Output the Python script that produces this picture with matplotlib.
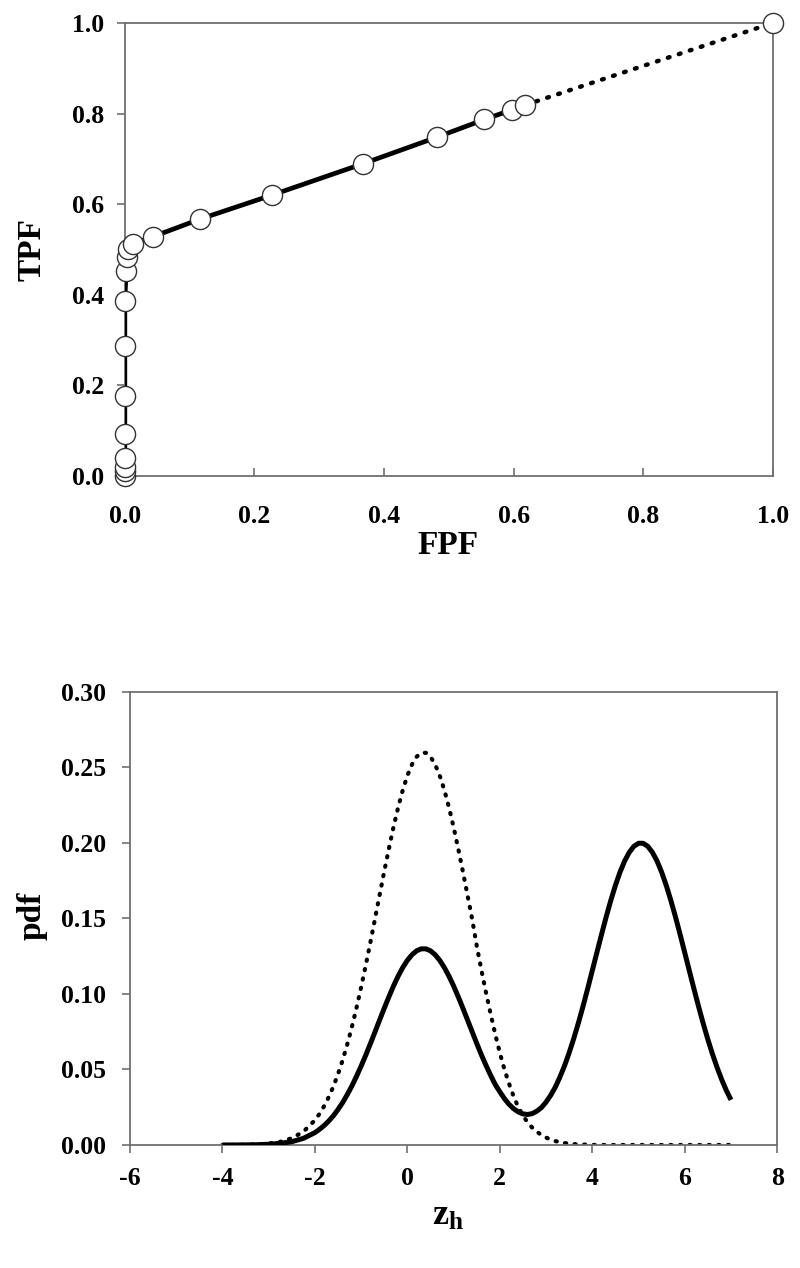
import matplotlib
matplotlib.use("Agg")
import matplotlib.pyplot as plt

plt.rcParams['font.family'] = ['Liberation Serif', 'DejaVu Serif']
plt.rcParams['font.weight'] = 'bold'
plt.rcParams['mathtext.fontset'] = 'custom'
plt.rcParams['mathtext.rm'] = 'Liberation Serif:bold'
plt.rcParams['mathtext.bf'] = 'Liberation Serif:bold'
plt.rcParams['mathtext.it'] = 'Liberation Serif:bold'

# ---- ROC data (top panel) ----
roc_fpf = [0.0, 0.0, 0.0, 0.0, 0.0, 0.0, 0.0, 0.0, 0.002, 0.003, 0.005, 0.012,
           0.043, 0.116, 0.227, 0.367, 0.482, 0.555, 0.597, 0.618]
roc_tpf = [0.0, 0.01, 0.02, 0.04, 0.093, 0.177, 0.288, 0.386, 0.452, 0.484, 0.50, 0.512,
           0.528, 0.567, 0.620, 0.689, 0.748, 0.787, 0.808, 0.819]
ext_fpf = [0.618, 1.0]
ext_tpf = [0.819, 1.0]
roc_end_fpf = [1.0]
roc_end_tpf = [1.0]

# ---- pdf data (bottom panel) ----
z_vals = [-4.0, -3.75, -3.5, -3.25, -3.0, -2.75, -2.5, -2.25,
          -2.0, -1.9, -1.8, -1.7, -1.6, -1.5, -1.4, -1.3, -1.2, -1.1,
          -1.0, -0.9, -0.8, -0.7, -0.6, -0.5, -0.4, -0.3, -0.2, -0.1,
          0.0, 0.1, 0.2, 0.3, 0.4, 0.5, 0.6, 0.7, 0.8, 0.9,
          1.0, 1.1, 1.2, 1.3, 1.4, 1.5, 1.6, 1.7, 1.8, 1.9,
          2.0, 2.1, 2.2, 2.3, 2.4, 2.5, 2.6, 2.7, 2.8, 2.9,
          3.0, 3.1, 3.2, 3.3, 3.4, 3.5, 3.6, 3.7, 3.8, 3.9,
          4.0, 4.1, 4.2, 4.3, 4.4, 4.5, 4.6, 4.7, 4.8, 4.9,
          5.0, 5.1, 5.2, 5.3, 5.4, 5.5, 5.6, 5.7, 5.8, 5.9,
          6.0, 6.1, 6.2, 6.3, 6.4, 6.5, 6.6, 6.7, 6.8, 6.9,
          7.0]
pdf_solid = [0.00001, 0.00003, 0.00008, 0.0002, 0.0005, 0.0011, 0.0022, 0.0044,
             0.0082, 0.0104, 0.0129, 0.0159, 0.0194, 0.0235, 0.0281, 0.0334, 0.0391, 0.0455,
             0.0523, 0.0595, 0.0671, 0.0749, 0.0828, 0.0906, 0.0981, 0.1053, 0.1118, 0.1175,
             0.1223, 0.1260, 0.1286, 0.1299, 0.1299, 0.1286, 0.1260, 0.1223, 0.1175, 0.1118,
             0.1053, 0.0982, 0.0907, 0.0829, 0.0751, 0.0673, 0.0598, 0.0528, 0.0462, 0.0401,
             0.0352, 0.0307, 0.0269, 0.0240, 0.0219, 0.0206, 0.0202, 0.0208, 0.0224, 0.0248,
             0.0284, 0.0329, 0.0383, 0.0450, 0.0525, 0.0611, 0.0706, 0.0809, 0.0919, 0.1035,
             0.1155, 0.1275, 0.1394, 0.1510, 0.1619, 0.1719, 0.1807, 0.1881, 0.1938, 0.1978,
             0.1998, 0.1998, 0.1978, 0.1938, 0.1881, 0.1807, 0.1719, 0.1619, 0.1510, 0.1394,
             0.1274, 0.1153, 0.1033, 0.0916, 0.0804, 0.0699, 0.0602, 0.0513, 0.0433, 0.0361,
             0.0299]
pdf_dotted = [0.00002, 0.00006, 0.00016, 0.0004, 0.00095, 0.0021, 0.0045, 0.0088,
              0.0164, 0.0207, 0.0258, 0.0318, 0.0388, 0.0470, 0.0562, 0.0667, 0.0782, 0.0909,
              0.1045, 0.1190, 0.1342, 0.1498, 0.1656, 0.1812, 0.1962, 0.2105, 0.2235, 0.2350,
              0.2446, 0.2520, 0.2571, 0.2597, 0.2597, 0.2571, 0.2520, 0.2446, 0.2350, 0.2235,
              0.2105, 0.1962, 0.1812, 0.1656, 0.1498, 0.1320, 0.1160, 0.1010, 0.0870, 0.0735,
              0.0610, 0.0500, 0.0405, 0.0320, 0.0250, 0.0195, 0.0150, 0.0115, 0.0088, 0.0066,
              0.0049, 0.0036, 0.0026, 0.0019, 0.0013, 0.0009, 0.0006, 0.0004, 0.0003, 0.0002,
              0.0001, 0.0, 0.0, 0.0, 0.0, 0.0, 0.0, 0.0, 0.0, 0.0,
              0.0, 0.0, 0.0, 0.0, 0.0, 0.0, 0.0, 0.0, 0.0, 0.0,
              0.0, 0.0, 0.0, 0.0, 0.0, 0.0, 0.0, 0.0, 0.0, 0.0,
              0.0]

fig = plt.figure(figsize=(8.0, 12.68), dpi=100)
spine_col = '#707070'

# ---------- top panel ----------
ax1 = fig.add_axes([0.156, 0.6246, 0.810, 0.3573])
ax1.plot(ext_fpf, ext_tpf, color='black', lw=3.2, linestyle=(0, (0.4, 2.2)),
         dash_capstyle='round', zorder=2)
ax1.plot(roc_fpf, roc_tpf, color='black', lw=3.4, zorder=3)
ax1.plot(roc_fpf, roc_tpf, linestyle='none', marker='o', ms=14.5, mfc='white',
         mec='#333333', mew=1.0, zorder=4, clip_on=False)
ax1.plot(roc_end_fpf, roc_end_tpf, linestyle='none', marker='o', ms=14.5, mfc='white',
         mec='#333333', mew=1.0, zorder=4, clip_on=False)
ax1.set_xlim(0, 1)
ax1.set_ylim(0, 1)
ax1.set_xticks([0.0, 0.2, 0.4, 0.6, 0.8, 1.0])
ax1.set_yticks([0.0, 0.2, 0.4, 0.6, 0.8, 1.0])
ax1.set_xticklabels(['0.0', '0.2', '0.4', '0.6', '0.8', '1.0'])
ax1.set_yticklabels(['0.0', '0.2', '0.4', '0.6', '0.8', '1.0'])
ax1.tick_params(axis='x', direction='in', length=6, width=1.2, color=spine_col,
                labelsize=18.5, pad=21)
ax1.tick_params(axis='y', direction='out', length=6, width=1.2, color=spine_col,
                labelsize=18.5, pad=9)
for sp in ax1.spines.values():
    sp.set_color(spine_col)
    sp.set_linewidth(1.3)
for lab in ax1.get_xticklabels() + ax1.get_yticklabels():
    lab.set_fontweight('bold')
fig.text(0.56, 0.570, 'FPF', ha='center', va='center', fontsize=24, fontweight='bold')
fig.text(0.040, 0.803, 'TPF', ha='center', va='center', rotation=90, fontsize=24,
         fontweight='bold')

# ---------- bottom panel ----------
ax2 = fig.add_axes([0.1625, 0.0970, 0.809, 0.3573])
ax2.plot(z_vals, pdf_dotted, color='black', lw=3.0, linestyle=(0, (0.3, 2.0)),
         dash_capstyle='round', zorder=2)
ax2.plot(z_vals, pdf_solid, color='black', lw=3.6, zorder=3, solid_capstyle='butt')
ax2.set_xlim(-6, 8)
ax2.set_ylim(0, 0.30)
ax2.set_xticks([-6, -4, -2, 0, 2, 4, 6, 8])
ax2.set_xticklabels(['-6', '-4', '-2', '0', '2', '4', '6', '8'])
ax2.set_yticks([0.0, 0.05, 0.10, 0.15, 0.20, 0.25, 0.30])
ax2.set_yticklabels(['0.00', '0.05', '0.10', '0.15', '0.20', '0.25', '0.30'])
ax2.tick_params(axis='both', direction='out', length=6, width=1.2, color=spine_col,
                labelsize=18.5)
ax2.tick_params(axis='x', pad=10)
ax2.tick_params(axis='y', pad=11)
for sp in ax2.spines.values():
    sp.set_color(spine_col)
    sp.set_linewidth(1.3)
for lab in ax2.get_xticklabels() + ax2.get_yticklabels():
    lab.set_fontweight('bold')
fig.text(0.56, 0.041, r'$\mathrm{z_h}$', ha='center', va='center', fontsize=26)
fig.text(0.040, 0.278, 'pdf', ha='center', va='center', rotation=90, fontsize=24,
         fontweight='bold')

fig.savefig('out.png', dpi=100)
